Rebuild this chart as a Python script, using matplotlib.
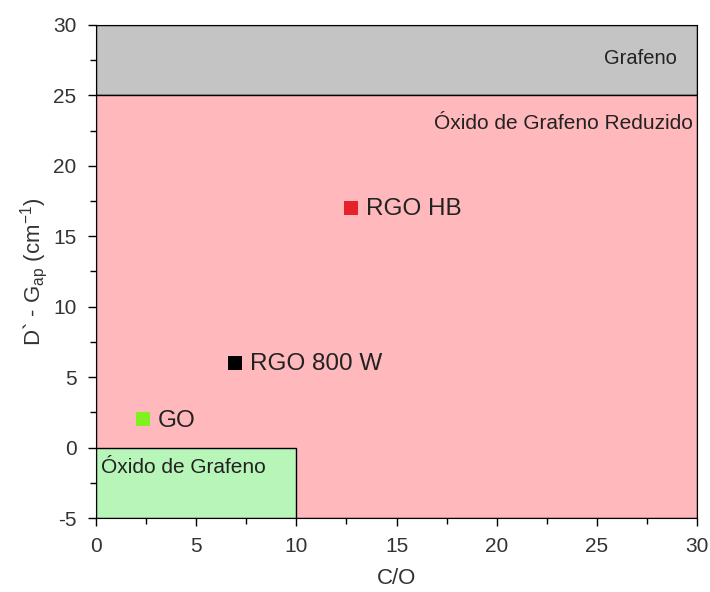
import matplotlib
matplotlib.use('Agg')
import matplotlib.pyplot as plt
from matplotlib.patches import Rectangle
from matplotlib.ticker import MultipleLocator

plt.rcParams['font.family'] = ['Liberation Sans', 'DejaVu Sans']
plt.rcParams['mathtext.fontset'] = 'custom'
plt.rcParams['mathtext.rm'] = 'Liberation Sans'
plt.rcParams['axes.unicode_minus'] = False

# sample points (C/O ratio, D' - G_ap)
samples = ['GO', 'RGO 800 W', 'RGO HB']
c_o = [2.35, 6.95, 12.75]
d_minus_g = [2.0, 6.0, 17.0]
colors = ['#80f020', '#000000', '#e8202a']

# shaded regions: (x0, x1, y0, y1, colour)
regions = [
    (0, 30, 25, 30, '#c4c4c4'),
    (0, 30, -5, 25, '#ffb8bb'),
    (0, 10, -5, 0, '#b8f5b8'),
]

fig = plt.figure(figsize=(7.1, 5.92), dpi=100)
ax = fig.add_axes([0.135, 0.125, 0.847, 0.833])

for x0, x1, y0, y1, col in regions:
    ax.add_patch(Rectangle((x0, y0), x1 - x0, y1 - y0, facecolor=col,
                           edgecolor='black', linewidth=1.0, zorder=1))

ax.text(29.0, 27.6, 'Grafeno', ha='right', va='center', fontsize=14.5,
        color='#222222', zorder=3)
ax.text(29.8, 23.0, 'Óxido de Grafeno Reduzido', ha='right', va='center',
        fontsize=15, color='#222222', zorder=3)
ax.text(0.25, -1.4, 'Óxido de Grafeno', ha='left', va='center',
        fontsize=15, color='#222222', zorder=3)

for name, x, y, c in zip(samples, c_o, d_minus_g, colors):
    ax.scatter(x, y, marker='s', s=90, color=c, zorder=4, linewidths=0)
    ax.text(x + 0.75, y - 0.1, name, ha='left', va='center', fontsize=17.5,
            color='#222222', zorder=4)

ax.set_xlim(0, 30)
ax.set_ylim(-5, 30)
ax.xaxis.set_major_locator(MultipleLocator(5))
ax.xaxis.set_minor_locator(MultipleLocator(2.5))
ax.yaxis.set_major_locator(MultipleLocator(5))
ax.yaxis.set_minor_locator(MultipleLocator(2.5))
ax.tick_params(which='major', direction='out', length=6, width=1,
               labelsize=15, labelcolor='#333333', pad=8)
ax.tick_params(which='minor', direction='out', length=4, width=1)

ax.set_xlabel('C/O', fontsize=16, labelpad=8, color='#333333')
ax.set_ylabel("D` - G$_{\\mathrm{ap}}$ (cm$^{\\mathrm{-1}}$)",
              fontsize=16, labelpad=2, color='#333333')

fig.savefig('out.png', dpi=100)
